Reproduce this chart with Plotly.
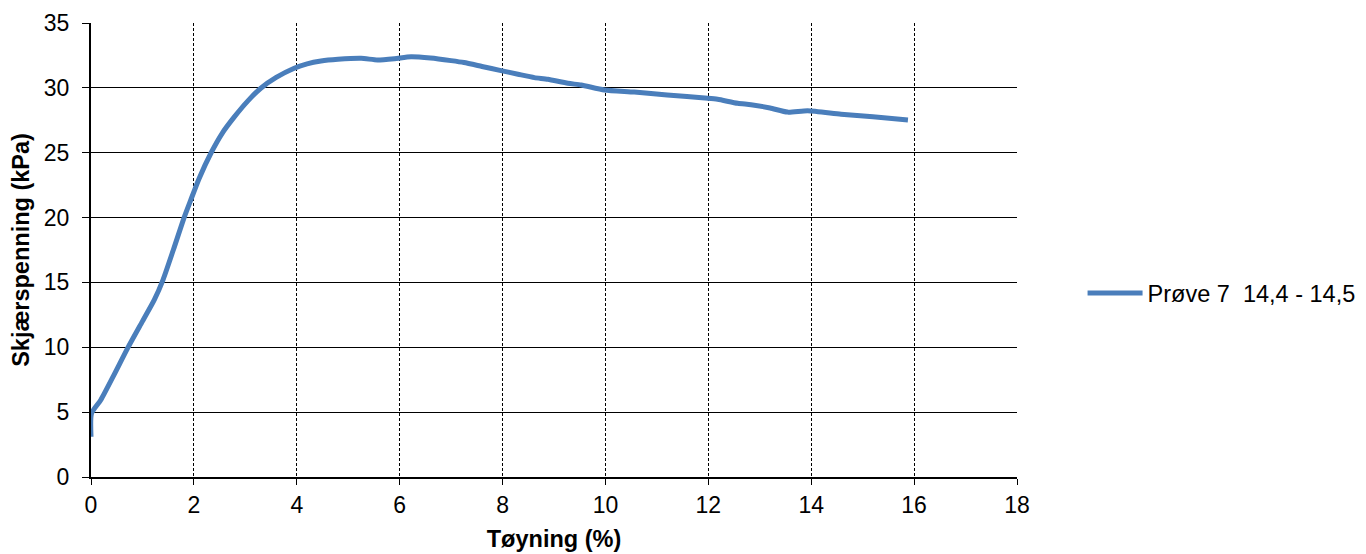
import plotly.graph_objects as go

strain = [0, 0.01, 0.19, 0.45, 0.71, 1.0, 1.23, 1.4, 1.6, 1.81, 1.94, 2.1, 2.33, 2.55, 2.79,
          3.05, 3.3, 3.6, 3.95, 4.2, 4.47, 4.8, 5.25, 5.57, 5.9, 6.22, 6.6, 7.0, 7.25, 7.6,
          7.97, 8.3, 8.62, 8.88, 9.27, 9.53, 9.98, 10.56, 11.2, 11.99, 12.18, 12.57, 12.83,
          13.2, 13.54, 13.93, 14.58, 15.2, 15.88]
stress = [3.1, 4.9, 5.94, 7.9, 9.92, 12.0, 13.65, 15.2, 17.5, 20.0, 21.36, 23.0, 24.96, 26.5,
          27.78, 29.0, 29.97, 30.8, 31.51, 31.85, 32.07, 32.2, 32.28, 32.15, 32.25, 32.4, 32.3,
          32.1, 31.95, 31.65, 31.33, 31.05, 30.79, 30.66, 30.35, 30.22, 29.84, 29.68, 29.45,
          29.2, 29.12, 28.81, 28.7, 28.45, 28.13, 28.24, 27.97, 27.78, 27.53]
series_name = "Prøve 7\u00a0 14,4 - 14,5"
x_ticks = [0, 2, 4, 6, 8, 10, 12, 14, 16, 18]
y_ticks = [0, 5, 10, 15, 20, 25, 30, 35]

fig = go.Figure()
fig.add_trace(go.Scatter(
    x=strain, y=stress, mode="lines", name=series_name,
    line=dict(color="#4a7ebb", width=5, shape="spline", smoothing=0.6),
    showlegend=True,
))

font_family = "Liberation Sans, Arial, sans-serif"
fig.update_layout(
    width=1366, height=554,
    margin=dict(l=83, r=357, t=15, b=85, autoexpand=False),
    paper_bgcolor="white", plot_bgcolor="white",
    font=dict(family=font_family, size=23, color="black"),
    showlegend=True,
    legend=dict(x=1.0708, y=0.405, xanchor="left", yanchor="middle", itemwidth=55,
                font=dict(size=23.5), bgcolor="rgba(0,0,0,0)"),
    xaxis=dict(
        range=[0, 18], tickvals=x_ticks, showgrid=True, gridcolor="black",
        griddash="3px,2px", gridwidth=1, showline=True, linecolor="black", linewidth=2,
        ticks="outside", ticklen=6, tickcolor="black", zeroline=False, automargin=False,
        tickfont=dict(size=23),
        title=dict(text="<b>Tøyning (%)</b>", font=dict(size=23.5), standoff=14),
    ),
    yaxis=dict(
        range=[0, 35], tickvals=y_ticks, showgrid=True, gridcolor="black",
        gridwidth=1, showline=True, linecolor="black", linewidth=2,
        ticks="outside", ticklen=7, tickcolor="black", zeroline=False, automargin=False,
        tickfont=dict(size=23), ticklabelstandoff=8,
        title=dict(text="<b>Skjærspenning (kPa)</b>", font=dict(size=23.5), standoff=8),
    ),
)

fig.write_html("out.html")
